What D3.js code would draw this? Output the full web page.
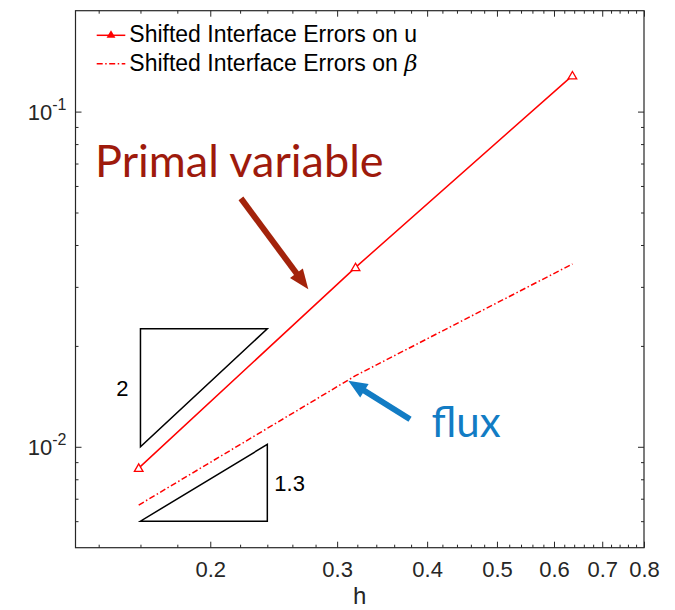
<!DOCTYPE html>
<html>
<head>
<meta charset="utf-8">
<script src="https://cdn.jsdelivr.net/npm/d3@7"></script>
<style>
  html, body { margin: 0; padding: 0; background: #fff; }
  svg { display: block; }
</style>
</head>
<body>
<svg id="chart" width="675" height="610"></svg>
<script>
// Mesh sizes and errors for the shifted interface method
const h = [0.1591, 0.3182, 0.6364];
const errU = [0.00864, 0.0343, 0.128];
const errBeta = [0.0067, 0.0163, 0.0351];

// Axis ticks
const xMajor = [0.2, 0.3, 0.4, 0.5, 0.6, 0.7, 0.8];
const xMinor = [0.14, 0.16, 0.18, 0.22, 0.24, 0.26, 0.28, 0.32, 0.34, 0.36, 0.38,
                0.42, 0.44, 0.46, 0.48, 0.52, 0.54, 0.56, 0.58, 0.62, 0.64, 0.66, 0.68,
                0.72, 0.74, 0.76, 0.78];
const yMajor = [0.01, 0.1];
const yMajorExp = ["-2", "-1"];
const yMinor = [0.006, 0.007, 0.008, 0.009, 0.02, 0.03, 0.04, 0.05, 0.06, 0.07, 0.08, 0.09];

// Slope reference triangles
const slopeX = [0.16, 0.24];
const slopeTriU = { yLow: 0.01, slope: 2, label: "2" };
const slopeTriBeta = { yLow: 0.006, slope: 1.3, label: "1.3" };

// Callouts (data coordinates)
const primalText = { x: 0.1384, y: 0.0639, label: "Primal variable" };
const primalArrow = { from: [0.2206, 0.0551], to: [0.2736, 0.02951] };
const fluxText = { x: 0.4057, y: 0.01072, label: "flux" };
const fluxArrow = { from: [0.3787, 0.01208], to: [0.3109, 0.01574] };

const legendLabels = ["Shifted Interface Errors on u", "Shifted Interface Errors on "];

const axisColor = "#262626";
const red = "#ff0000";
const primalColor = "#9e1a0c";
const fluxColor = "#127cc4";

const svg = d3.select("#chart");
const x = d3.scaleLog().domain([0.13, 0.8]).range([75.5, 644]);
const y = d3.scaleLog().domain([0.005, 0.2]).range([547.7, 10.7]);
const [xl, xr] = x.range();
const [yb, yt] = y.range();

const font = "'Liberation Sans', Arial, Helvetica, sans-serif";

// Axes box
const axes = svg.append("g");
axes.append("rect")
  .attr("x", xl).attr("y", yt).attr("width", xr - xl).attr("height", yb - yt)
  .attr("fill", "none").attr("stroke", axisColor).attr("stroke-width", 1.2);

function styleAxis(g) {
  g.select(".domain").remove();
  g.selectAll(".tick line").attr("stroke", axisColor).attr("stroke-width", 1);
  g.selectAll(".tick text").attr("fill", axisColor)
    .style("font-family", font).style("font-size", "22px");
}

// Bottom axis with labels
axes.append("g").attr("transform", `translate(0,${yb})`)
  .call(d3.axisBottom(x).tickValues(xMajor).tickSize(-6).tickPadding(14)
    .tickFormat(d3.format(".1f")))
  .call(styleAxis);
axes.append("g").attr("transform", `translate(0,${yb})`)
  .call(d3.axisBottom(x).tickValues(xMinor).tickSize(-3).tickFormat(""))
  .call(styleAxis);
// Top mirror ticks
axes.append("g").attr("transform", `translate(0,${yt})`)
  .call(d3.axisTop(x).tickValues(xMajor).tickSize(-6).tickFormat(""))
  .call(styleAxis);
axes.append("g").attr("transform", `translate(0,${yt})`)
  .call(d3.axisTop(x).tickValues(xMinor).tickSize(-3).tickFormat(""))
  .call(styleAxis);

// Left axis with power-of-ten labels
const yAxisG = axes.append("g").attr("transform", `translate(${xl},0)`)
  .call(d3.axisLeft(y).tickValues(yMajor).tickSize(-6).tickPadding(9).tickFormat(""))
  .call(styleAxis);
yAxisG.selectAll(".tick text").each(function(d, i) {
  const t = d3.select(this);
  t.text(null).attr("dy", "0.36em");
  t.append("tspan").text("10");
  t.append("tspan").attr("dy", -10).style("font-size", "16px").text(yMajorExp[i]);
});
axes.append("g").attr("transform", `translate(${xl},0)`)
  .call(d3.axisLeft(y).tickValues(yMinor).tickSize(-3).tickFormat(""))
  .call(styleAxis);
// Right mirror ticks
axes.append("g").attr("transform", `translate(${xr},0)`)
  .call(d3.axisRight(y).tickValues(yMajor).tickSize(-6).tickFormat(""))
  .call(styleAxis);
axes.append("g").attr("transform", `translate(${xr},0)`)
  .call(d3.axisRight(y).tickValues(yMinor).tickSize(-3).tickFormat(""))
  .call(styleAxis);

// x-axis title
svg.append("text").attr("x", (xl + xr) / 2).attr("y", 604)
  .attr("text-anchor", "middle").attr("fill", axisColor)
  .style("font-family", font).style("font-size", "24px").text("h");

// Data lines
const line = d3.line().x(d => x(d[0])).y(d => y(d[1]));
const uPts = h.map((v, i) => [v, errU[i]]);
const bPts = h.map((v, i) => [v, errBeta[i]]);

svg.append("path").attr("d", line(uPts))
  .attr("fill", "none").attr("stroke", red).attr("stroke-width", 1.5);
svg.append("path").attr("d", line(bPts))
  .attr("fill", "none").attr("stroke", red).attr("stroke-width", 1.5)
  .attr("stroke-dasharray", "6,2.5,1.5,2.5");

const tri = d3.symbol().type(d3.symbolTriangle).size(32);
svg.selectAll(".mk").data(uPts).enter().append("path")
  .attr("transform", d => `translate(${x(d[0])},${y(d[1]) + 0.8})`)
  .attr("d", tri).attr("fill", "#fff").attr("stroke", red).attr("stroke-width", 1.3);

// Slope triangles
function slopeTriangle(spec, rightAngleLeftTop) {
  const [x0, x1] = slopeX;
  const yHigh = spec.yLow * Math.pow(x1 / x0, spec.slope);
  const pts = rightAngleLeftTop
    ? [[x0, yHigh], [x1, yHigh], [x0, spec.yLow]]
    : [[x0, spec.yLow], [x1, spec.yLow], [x1, yHigh]];
  svg.append("path").attr("d", line(pts) + "Z")
    .attr("fill", "none").attr("stroke", "#000").attr("stroke-width", 1.5);
  return yHigh;
}
const yHighU = slopeTriangle(slopeTriU, true);
svg.append("text")
  .attr("x", x(slopeX[0]) - 18).attr("y", y(Math.sqrt(slopeTriU.yLow * yHighU)))
  .attr("dy", "0.36em").attr("text-anchor", "middle").attr("fill", "#000")
  .style("font-family", font).style("font-size", "22px").text(slopeTriU.label);
const yHighB = slopeTriangle(slopeTriBeta, false);
svg.append("text")
  .attr("x", x(slopeX[1]) + 7).attr("y", y(Math.sqrt(slopeTriBeta.yLow * yHighB)))
  .attr("dy", "0.36em").attr("fill", "#000")
  .style("font-family", font).style("font-size", "22px").text(slopeTriBeta.label);

// Legend
const leg = svg.append("g");
const legY = [35.3, 63.7];
leg.append("line").attr("x1", 96.7).attr("x2", 125.3).attr("y1", legY[0]).attr("y2", legY[0])
  .attr("stroke", red).attr("stroke-width", 1.5);
leg.append("path").attr("transform", `translate(111,${legY[0]})`)
  .attr("d", d3.symbol().type(d3.symbolTriangle).size(34)).attr("fill", red);
leg.append("line").attr("x1", 96.7).attr("x2", 125.3).attr("y1", legY[1]).attr("y2", legY[1])
  .attr("stroke", red).attr("stroke-width", 1.5).attr("stroke-dasharray", "6,2.5,1.5,2.5");
leg.append("text").attr("x", 129.3).attr("y", legY[0] + 7)
  .attr("fill", "#000").style("font-family", font).style("font-size", "23px")
  .text(legendLabels[0]);
const t2 = leg.append("text").attr("x", 129.3).attr("y", legY[1] + 7)
  .attr("fill", "#000").style("font-family", font).style("font-size", "23px");
t2.append("tspan").text(legendLabels[1]);
t2.append("tspan").style("font-family", "'DejaVu Serif', 'Liberation Serif', serif")
  .style("font-style", "italic").style("font-size", "23px").text("β");

// Callout arrows
function arrow(spec, color, width, headLen, headHalf) {
  const [x0, y0] = [x(spec.from[0]), y(spec.from[1])];
  const [x1, y1] = [x(spec.to[0]), y(spec.to[1])];
  const dx = x1 - x0, dy = y1 - y0, L = Math.hypot(dx, dy);
  const ux = dx / L, uy = dy / L;
  const bx = x1 - ux * headLen, by = y1 - uy * headLen;
  svg.append("line").attr("x1", x0).attr("y1", y0).attr("x2", bx + ux).attr("y2", by + uy)
    .attr("stroke", color).attr("stroke-width", width);
  svg.append("path")
    .attr("d", `M${x1},${y1}L${bx - uy * headHalf},${by + ux * headHalf}L${bx + uy * headHalf},${by - ux * headHalf}Z`)
    .attr("fill", color);
}
arrow(primalArrow, "#a3230b", 6, 20, 8);
arrow(fluxArrow, fluxColor, 6, 19, 8);

const calloutFont = "Lato, 'Open Sans', 'Noto Sans', sans-serif";
svg.append("text").attr("x", x(primalText.x)).attr("y", y(primalText.y))
  .attr("fill", primalColor).style("font-family", calloutFont).style("font-size", "45px")
  .text(primalText.label);
svg.append("text").attr("x", x(fluxText.x)).attr("y", y(fluxText.y))
  .attr("fill", fluxColor).style("font-family", calloutFont).style("font-size", "42px")
  .text(fluxText.label);
</script>
</body>
</html>
